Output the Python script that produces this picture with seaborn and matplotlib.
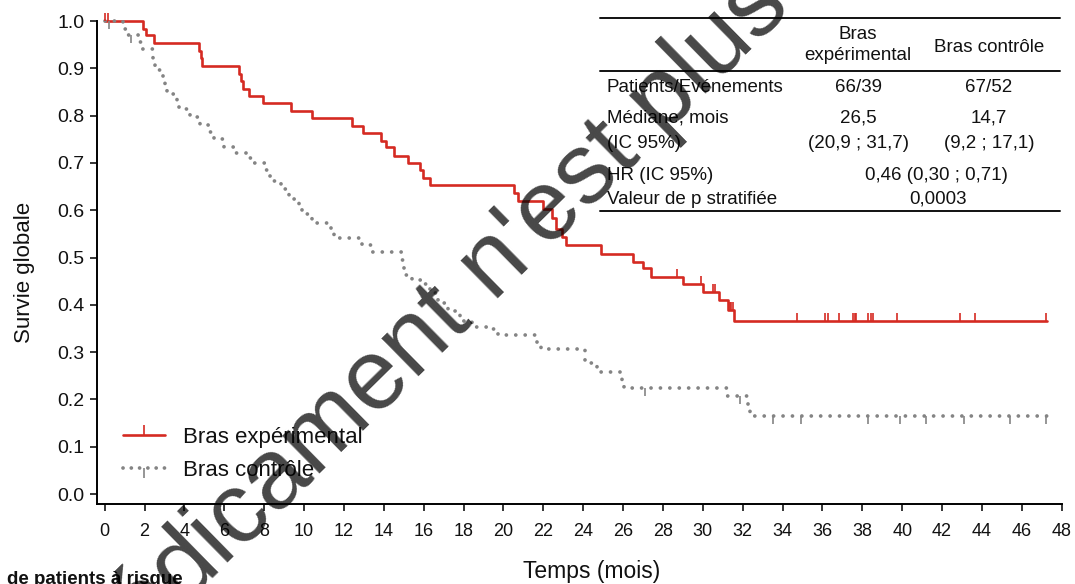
import numpy as np
import pandas as pd
import matplotlib
matplotlib.use("Agg")
import matplotlib.pyplot as plt
from matplotlib.lines import Line2D
import seaborn as sns

# ---------------- data ----------------
exp_time = [0, 1.92, 2.05, 2.45, 4.73, 4.84, 4.90, 6.76, 6.82, 6.95, 7.26, 7.93, 9.33, 10.39,
            12.40, 12.94, 13.86, 14.10, 14.50, 15.20, 15.80, 15.98, 16.30, 20.55, 20.75, 21.98,
            22.45, 22.65, 22.95, 23.15, 24.90, 26.50, 27.00, 27.42, 29.00, 30.00, 30.80, 31.25,
            31.58, 47.25]
exp_surv = [1.000, 0.984, 0.970, 0.953, 0.937, 0.921, 0.905, 0.889, 0.873, 0.857, 0.842, 0.826,
            0.810, 0.794, 0.779, 0.763, 0.747, 0.733, 0.715, 0.700, 0.684, 0.668, 0.654, 0.637,
            0.620, 0.603, 0.584, 0.560, 0.543, 0.526, 0.508, 0.491, 0.477, 0.459, 0.444, 0.427,
            0.410, 0.389, 0.365, 0.365]
exp_censor = [0.0, 0.15, 28.7, 29.9, 30.5, 30.6, 31.35, 31.43, 31.5, 34.73, 36.12, 36.29, 36.82,
              37.53, 37.63, 37.69, 38.29, 38.46, 38.53, 39.75, 42.89, 43.64, 47.23]

ctl_time = [0, 0.90, 1.05, 1.72, 1.80, 2.40, 2.50, 2.95, 3.05, 3.15, 3.65, 3.75, 4.30, 4.80,
            5.30, 5.50, 6.00, 6.60, 7.20, 7.50, 8.05, 8.25, 8.45, 8.85, 9.25, 9.75, 9.90, 10.40,
            11.35, 11.50, 12.90, 13.35, 14.90, 15.00, 15.40, 16.00, 16.30, 16.55, 16.70, 17.20,
            17.80, 18.40, 19.30, 19.75, 21.70, 21.90, 24.10, 24.70, 25.95, 26.05, 31.20, 32.25,
            32.35, 47.25]
ctl_surv = [1.000, 0.984, 0.971, 0.955, 0.941, 0.912, 0.897, 0.882, 0.866, 0.846, 0.830, 0.814,
            0.798, 0.781, 0.765, 0.750, 0.734, 0.720, 0.711, 0.700, 0.684, 0.672, 0.662, 0.645,
            0.623, 0.607, 0.591, 0.574, 0.558, 0.542, 0.526, 0.511, 0.495, 0.464, 0.452, 0.444,
            0.432, 0.424, 0.404, 0.388, 0.366, 0.353, 0.349, 0.336, 0.318, 0.306, 0.278, 0.258,
            0.238, 0.224, 0.207, 0.185, 0.165, 0.165]
ctl_censor = [0.2, 1.3, 27.1, 31.85, 33.5, 34.9, 38.3, 39.9, 41.2, 43.1, 45.4, 47.2]

series_labels = ["Bras expérimental", "Bras contrôle"]
x_ticks = list(range(0, 49, 2))
y_ticks = [round(v * 0.1, 1) for v in range(11)]

table_cols = ["Bras\nexpérimental", "Bras contrôle"]
table_rows = ["Patients/Evénements", "Médiane, mois", "(IC 95%)", "HR (IC 95%)", "Valeur de p stratifiée"]
table_exp = ["66/39", "26,5", "(20,9 ; 31,7)"]
table_ctl = ["67/52", "14,7", "(9,2 ; 17,1)"]
table_hr = "0,46 (0,30 ; 0,71)"
table_p = "0,0003"

RED = "#d52a22"
GRAY = "#848484"

# ---------------- figure ----------------
sns.set_theme(style="white")
plt.rcParams["font.family"] = ["Liberation Sans", "DejaVu Sans"]

W, H = 1075, 584
fig = plt.figure(figsize=(W / 100, H / 100), dpi=100)


def fx(px):
    return px / W


def fy(py):
    return 1 - py / H


ax = fig.add_axes([fx(96.7), fy(503.5), fx(1061.7) - fx(96.7), fy(21) - fy(503.5)])


def surv_at(times, survs, t):
    idx = np.searchsorted(times, t, side="right") - 1
    return survs[max(idx, 0)]


df_exp = pd.DataFrame({"time": exp_time, "surv": exp_surv})
df_ctl = pd.DataFrame({"time": ctl_time, "surv": ctl_surv})

sns.lineplot(data=df_exp, x="time", y="surv", ax=ax, estimator=None, sort=False,
             drawstyle="steps-post", color=RED, lw=1.9)
red_line = ax.lines[-1]
red_line.set_clip_on(False)

sns.lineplot(data=df_ctl, x="time", y="surv", ax=ax, estimator=None, sort=False,
             drawstyle="steps-post", color=GRAY, lw=2.7)
gray_line = ax.lines[-1]
gray_line.set_linestyle((0, (0.01, 2.5)))
gray_line.set_dash_capstyle("round")
gray_line.set_clip_on(False)

ec = pd.DataFrame({"time": exp_censor,
                   "surv": [surv_at(exp_time, exp_surv, t) for t in exp_censor]})
cc = pd.DataFrame({"time": ctl_censor,
                   "surv": [surv_at(ctl_time, ctl_surv, t) for t in ctl_censor]})
sns.scatterplot(data=ec, x="time", y="surv", ax=ax, marker=2, s=36, color=RED,
                linewidth=1.2, clip_on=False, zorder=3)
sns.scatterplot(data=cc, x="time", y="surv", ax=ax, marker=3, s=36, color=GRAY,
                linewidth=1.2, clip_on=False, zorder=3)

ax.set_xlim(-0.4, 48)
ax.set_ylim(-0.02, 1.0)
ax.set_xticks(x_ticks)
ax.set_xticklabels([str(t) for t in x_ticks])
ax.set_yticks(y_ticks)
ax.set_yticklabels([f"{v:.1f}" for v in y_ticks])
ax.tick_params(axis="both", which="major", direction="out", length=5, width=1.1,
               color="black", labelcolor="#111111", bottom=True, left=True)
ax.tick_params(axis="x", labelsize=13, pad=9)
ax.tick_params(axis="y", labelsize=14, pad=4)
for side in ["top", "right"]:
    ax.spines[side].set_visible(False)
for side in ["left", "bottom"]:
    ax.spines[side].set_color("black")
    ax.spines[side].set_linewidth(1.4)
ax.grid(False)

ax.set_xlabel("Temps (mois)", fontsize=16.5, color="#111111")
ax.xaxis.set_label_coords((592 - 96.7) / 965, (503.5 - 560) / 482.5)
ax.set_ylabel("Survie globale", fontsize=16, color="#111111")
ax.yaxis.set_label_coords((35 - 96.7) / 965, (503.5 - 272) / 482.5)

# legend
handles = [
    Line2D([], [], color=RED, lw=1.9, marker=2, markersize=7, markeredgewidth=1.2),
    Line2D([], [], color=GRAY, lw=2.7, linestyle=(0, (0.01, 2.2)), dash_capstyle="round",
           marker=3, markersize=7, markeredgewidth=1.2),
]
ax.legend(handles, series_labels, loc="upper left", frameon=False, fontsize=16,
          bbox_to_anchor=(fx(123), fy(427)), bbox_transform=fig.transFigure,
          borderpad=0, borderaxespad=0, handlelength=1.9, handletextpad=0.8,
          labelspacing=0.55, labelcolor="#111111")

# ---------------- table ----------------
TF = 13.5
tc = "#111111"
for y in (18, 71, 211):
    fig.add_artist(Line2D([fx(600), fx(1060)], [fy(y), fy(y)], color="#111111", lw=1.4))
fig.text(fx(858), fy(45), table_cols[0], ha="center", va="center", fontsize=TF, color=tc,
         linespacing=1.3)
fig.text(fx(989), fy(47), table_cols[1], ha="center", va="center", fontsize=TF, color=tc)
row_y = [88, 118, 143, 176, 199]
for lab, y in zip(table_rows, row_y):
    fig.text(fx(607), fy(y), lab, ha="left", va="center", fontsize=TF, color=tc)
for v, y in zip(table_exp, row_y[:3]):
    fig.text(fx(858), fy(y), v, ha="center", va="center", fontsize=TF, color=tc)
for v, y in zip(table_ctl, row_y[:3]):
    fig.text(fx(989), fy(y), v, ha="center", va="center", fontsize=TF, color=tc)
fig.text(fx(936), fy(row_y[3]), table_hr, ha="center", va="center", fontsize=TF, color=tc)
fig.text(fx(938), fy(row_y[4]), table_p, ha="center", va="center", fontsize=TF, color=tc)

# bottom caption (cropped in reference)
fig.text(fx(7), fy(571), "de patients à risque", ha="left", va="top", fontsize=13.5,
         fontweight="bold", color=tc)

# watermark
fig.text(fx(420), fy(338), "Médicament n'est plus", rotation=44.5, rotation_mode="anchor",
         ha="center", va="center", fontsize=72, color="black", alpha=0.72, zorder=20)

fig.savefig("out.png", dpi=100)
